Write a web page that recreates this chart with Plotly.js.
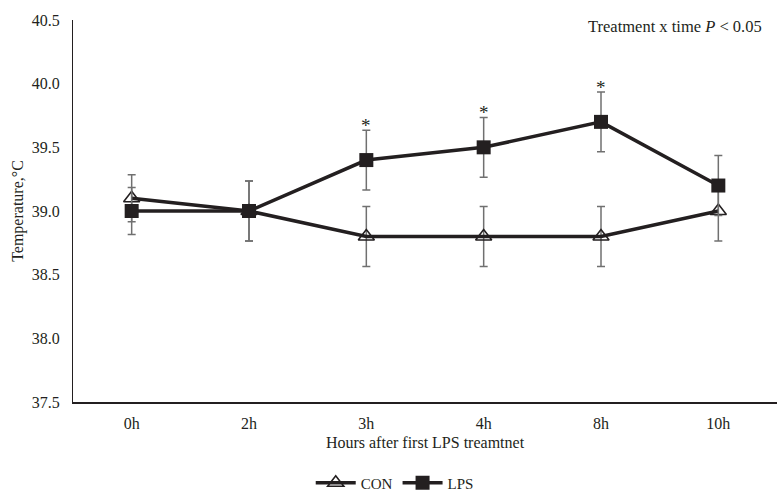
<!DOCTYPE html>
<html>
<head>
<meta charset="utf-8">
<script src="https://cdn.plot.ly/plotly-3.0.1.min.js"></script>
<style>html,body{margin:0;padding:0;background:#fff}</style>
</head>
<body>
<div id="chart" style="width:777px;height:495px"></div>
<script>
const categories = ["0h", "2h", "3h", "4h", "8h", "10h"];
const conValues = [39.1, 39.0, 38.8, 38.8, 38.8, 39.0];
const conErrors = [0.185, 0.235, 0.235, 0.235, 0.235, 0.235];
const lpsValues = [39.0, 39.0, 39.4, 39.5, 39.7, 39.2];
const lpsErrors = [0.185, 0.235, 0.235, 0.235, 0.235, 0.235];
const significant = ["3h", "4h", "8h"];

const lineColor = "#231f20";
const errStyle = {type: "data", visible: true, color: "#707070", thickness: 1.5, width: 4};

const traces = [
  {
    x: categories, y: conValues, name: "CON", type: "scatter", mode: "lines+markers",
    line: {color: lineColor, width: 3.5},
    marker: {symbol: "triangle-up-open", size: 14, color: lineColor, line: {width: 1.6, color: lineColor}},
    error_y: Object.assign({array: conErrors}, errStyle)
  },
  {
    x: categories, y: lpsValues, name: "LPS", type: "scatter", mode: "lines+markers",
    line: {color: lineColor, width: 3.5},
    marker: {symbol: "square", size: 14, color: lineColor},
    error_y: Object.assign({array: lpsErrors}, errStyle)
  }
];

const annotations = significant.map(c => {
  const i = categories.indexOf(c);
  return {
    x: c, y: lpsValues[i] + lpsErrors[i], xref: "x", yref: "y",
    text: "*", showarrow: false, yanchor: "bottom", yshift: -8,
    font: {family: "Liberation Serif", size: 19, color: "#231f20"}
  };
});
annotations.push({
  x: 0.982, y: 0.982, xref: "paper", yref: "paper", xanchor: "right", yanchor: "middle",
  text: "Treatment x time <i>P</i> < 0.05", showarrow: false,
  font: {family: "Liberation Serif", size: 16.5, color: "#231f20"}
});

const layout = {
  width: 777, height: 495,
  margin: {l: 73, r: 0, t: 20, b: 93, pad: 0, autoexpand: false},
  paper_bgcolor: "#fff", plot_bgcolor: "#fff",
  font: {family: "Liberation Serif", size: 16, color: "#231f20"},
  showlegend: true,
  legend: {orientation: "h", x: 0.457, xanchor: "center", y: -0.212, yanchor: "middle",
           font: {family: "Liberation Serif", size: 15, color: "#231f20"}, itemwidth: 40},
  xaxis: {
    type: "category", range: [-0.5, 5.5], showgrid: false, zeroline: false,
    showline: true, linecolor: "#231f20", linewidth: 1.5,
    ticks: "outside", ticklen: 6, tickcolor: "rgba(0,0,0,0)",
    tickfont: {family: "Liberation Serif", size: 16},
    title: {text: "Hours after first LPS treamtnet", standoff: 6,
            font: {family: "Liberation Serif", size: 16}}
  },
  yaxis: {
    range: [37.5, 40.5], dtick: 0.5, tick0: 37.5, tickformat: ".1f",
    showgrid: false, zeroline: false, showline: true, linecolor: "#231f20", linewidth: 1,
    ticks: "outside", ticklen: 9, tickcolor: "rgba(0,0,0,0)",
    tickfont: {family: "Liberation Serif", size: 16},
    title: {text: "Temperature,°C", standoff: 4, font: {family: "Liberation Serif", size: 16}}
  },
  annotations: annotations
};

Plotly.newPlot("chart", traces, layout, {displayModeBar: false, staticPlot: true});
</script>
</body>
</html>
